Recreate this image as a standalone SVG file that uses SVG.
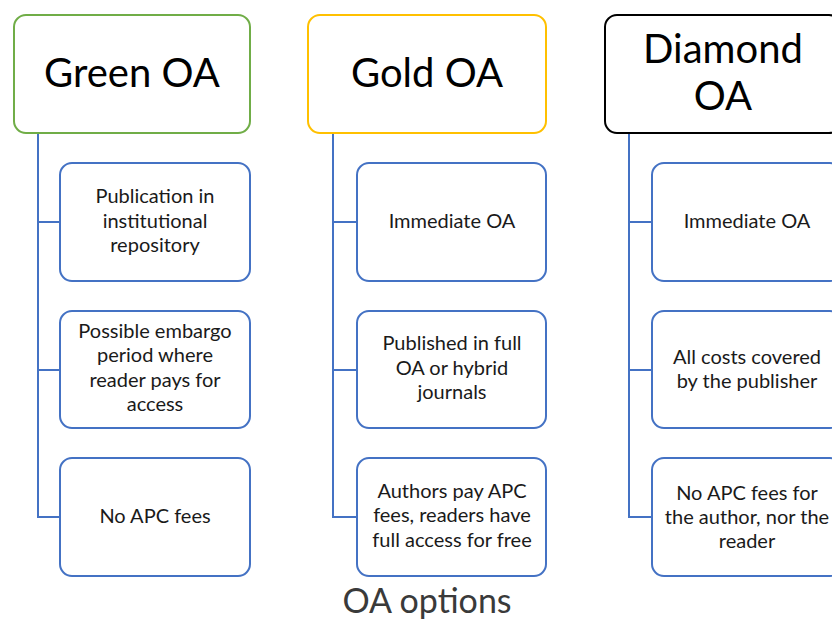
<svg xmlns="http://www.w3.org/2000/svg" width="832" height="619" viewBox="0 0 832 619">
  <style>
    .hdr { fill: #ffffff; stroke-width: 2; }
    .item { fill: #ffffff; stroke: #4472C4; stroke-width: 2; }
    .link { fill: none; stroke: #4472C4; stroke-width: 2; }
    .htxt { font-family: Lato, "Open Sans", sans-serif; font-size: 40px; fill: #000000; text-anchor: middle; }
    .itxt { font-family: Lato, "Open Sans", sans-serif; font-size: 20px; fill: #1a1a1a; text-anchor: middle; }
    .cap { font-family: Lato, "Open Sans", sans-serif; font-size: 34px; fill: #3a3a3a; text-anchor: middle; }
  </style>
  <rect width="832" height="619" fill="#ffffff"/>

  <!-- connectors -->
  <g id="connectors">
    <path class="link" d="M38 133 V517 H60 M38 222 H60 M38 370 H60"/>
    <path class="link" d="M333 133 V517 H357 M333 222 H357 M333 370 H357"/>
    <path class="link" d="M629 133 V517 H652 M629 222 H652 M629 370 H652"/>
  </g>

  <!-- Green column -->
  <g id="green-oa">
    <rect class="hdr" x="14" y="15" width="236" height="118" rx="12" stroke="#70AD47"/>
    <text class="htxt" x="132" y="87">Green OA</text>
  </g>
  <g id="green-1">
    <rect class="item" x="60" y="163" width="190" height="118" rx="12"/>
    <text class="itxt" x="155" y="203">Publication in</text>
    <text class="itxt" x="155" y="228">institutional</text>
    <text class="itxt" x="155" y="252">repository</text>
  </g>
  <g id="green-2">
    <rect class="item" x="60" y="311" width="190" height="117" rx="12"/>
    <text class="itxt" x="155" y="338">Possible embargo</text>
    <text class="itxt" x="155" y="362">period where</text>
    <text class="itxt" x="155" y="387">reader pays for</text>
    <text class="itxt" x="155" y="411">access</text>
  </g>
  <g id="green-3">
    <rect class="item" x="60" y="458" width="190" height="118" rx="12"/>
    <text class="itxt" x="155" y="523">No APC fees</text>
  </g>

  <!-- Gold column -->
  <g id="gold-oa">
    <rect class="hdr" x="308" y="15" width="238" height="118" rx="12" stroke="#FFC000"/>
    <text class="htxt" x="427" y="87">Gold OA</text>
  </g>
  <g id="gold-1">
    <rect class="item" x="357" y="163" width="189" height="118" rx="12"/>
    <text class="itxt" x="452" y="228">Immediate OA</text>
  </g>
  <g id="gold-2">
    <rect class="item" x="357" y="311" width="189" height="117" rx="12"/>
    <text class="itxt" x="452" y="350">Published in full</text>
    <text class="itxt" x="452" y="375">OA or hybrid</text>
    <text class="itxt" x="452" y="399">journals</text>
  </g>
  <g id="gold-3">
    <rect class="item" x="357" y="458" width="189" height="118" rx="12"/>
    <text class="itxt" x="452" y="498">Authors pay APC</text>
    <text class="itxt" x="452" y="522">fees, readers have</text>
    <text class="itxt" x="452" y="547">full access for free</text>
  </g>

  <!-- Diamond column -->
  <g id="diamond-oa">
    <rect class="hdr" x="605" y="15" width="236" height="118" rx="12" stroke="#000000"/>
    <text class="htxt" x="723" y="63">Diamond</text>
    <text class="htxt" x="723" y="110">OA</text>
  </g>
  <g id="diamond-1">
    <rect class="item" x="652" y="163" width="190" height="118" rx="12"/>
    <text class="itxt" x="747" y="228">Immediate OA</text>
  </g>
  <g id="diamond-2">
    <rect class="item" x="652" y="311" width="190" height="117" rx="12"/>
    <text class="itxt" x="747" y="364">All costs covered</text>
    <text class="itxt" x="747" y="388">by the publisher</text>
  </g>
  <g id="diamond-3">
    <rect class="item" x="652" y="458" width="190" height="118" rx="12"/>
    <text class="itxt" x="747" y="500">No APC fees for</text>
    <text class="itxt" x="747" y="524">the author, nor the</text>
    <text class="itxt" x="747" y="548">reader</text>
  </g>

  <text class="cap" x="427" y="613">OA options</text>
</svg>
